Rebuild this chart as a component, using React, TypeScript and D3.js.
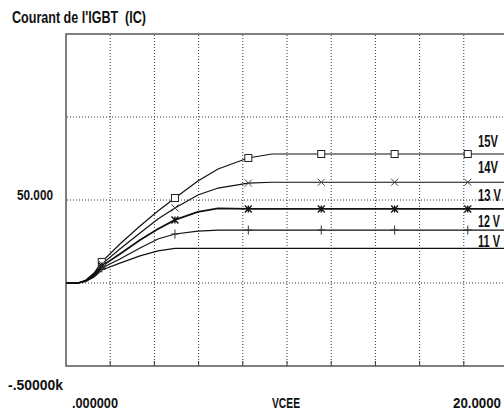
import { scaleLinear, line, range } from "d3";

// VCE sample points (V) shared by all curves
const vce = [0, 0.54, 0.9, 1.27, 1.62, 2.44, 3.35, 4.16, 4.93, 5.97, 6.88, 8.24, 9.32, 20];

// collector current (A) for each gate voltage
const ic15 = [0, 0, 1.8, 6.0, 12.7, 23.5, 34.3, 43.4, 51.2, 61.4, 68.7, 75.3, 77.7, 77.7];
const ic14 = [0, 0, 1.5, 5.4, 11.4, 20.5, 30.1, 38.6, 45.2, 53.0, 57.2, 60.2, 60.7, 60.7];
const ic13 = [0, 0, 1.2, 4.8, 10.2, 17.5, 25.9, 32.5, 38.0, 42.8, 44.9, 44.6, 44.6, 44.6];
const ic12 = [0, 0, 1.2, 4.2, 9.0, 14.5, 21.1, 26.5, 29.5, 31.3, 31.9, 31.9, 31.9, 31.9];
const ic11 = [0, 0, 0.9, 3.6, 7.8, 12.0, 16.3, 19.3, 20.8, 20.9, 20.9, 20.9, 20.9, 20.9];

const seriesLabels = ["15V", "14V", "13 V", "12 V", "11 V"];
const markerKinds = ["square", "x", "star", "plus", "none"];
// VCE where PSpice drops a marker
const markerVce = [1.62, 4.93, 8.25, 11.55, 14.87, 18.18];

const title = "Courant de l'IGBT  (IC)";
const yTickLabel = "50.000";
const yMinLabel = "-.50000k";
const xMinLabel = ".000000";
const xMaxLabel = "20.0000";
const xTitle = "VCEE";

const font = "'Liberation Sans', Arial, sans-serif";

// narrow bold text, squeezed to the width seen in the plot
const T = (p: { x: number; y: number; w: number; size: number; children: string }) => (
  <text
    x={p.x}
    y={p.y}
    textLength={p.w}
    lengthAdjust="spacingAndGlyphs"
    fontFamily={font}
    fontWeight="bold"
    fontSize={p.size}
    fill="#111"
    style={{ whiteSpace: "pre" }}
  >
    {p.children}
  </text>
);

const Marker = ({ kind, x, y }: { kind: string; x: number; y: number }) => {
  const s = 3.5;
  if (kind === "square")
    return <rect x={x - s} y={y - s} width={s * 2} height={s * 2} fill="white" stroke="#222" strokeWidth={1} />;
  const xPath = `M${x - s},${y - s}L${x + s},${y + s}M${x - s},${y + s}L${x + s},${y - s}`;
  const plusPath = `M${x},${y - 4.5}L${x},${y + 4.5}M${x - 4},${y}L${x + 4},${y}`;
  if (kind === "x") return <path d={xPath} stroke="#444" strokeWidth={1} />;
  if (kind === "star") return <path d={xPath + `M${x},${y - s}L${x},${y + s}`} stroke="#111" strokeWidth={1.3} />;
  if (kind === "plus") return <path d={plusPath} stroke="#333" strokeWidth={1} />;
  return null;
};

export default function App() {
  const width = 504;
  const height = 414;
  const x = scaleLinear().domain([0, 20]).range([66, 508]);
  const y = scaleLinear().domain([-50, 150]).range([366, 34]);

  const allSeries = [ic15, ic14, ic13, ic12, ic11];
  const interp = (vals: number[], v: number) => {
    for (let i = 1; i < vce.length; i++) {
      if (v <= vce[i]) {
        const t = (v - vce[i - 1]) / (vce[i] - vce[i - 1]);
        return vals[i - 1] + t * (vals[i] - vals[i - 1]);
      }
    }
    return vals[vals.length - 1];
  };

  const lineGen = line<number>()
    .x((_, i) => x(vce[i]))
    .y((d) => y(d));

  const xGrid = range(1, 10).map((i) => x(i * 2));
  const yGrid = [100, 50, 0];
  const labelOffsets = [-7, -9, -8, -3, -1];
  const labelWidths = [20, 20, 23, 22, 22];

  return (
    <svg width={width} height={height} style={{ position: "absolute", left: 0, top: 0, background: "white" }}>
      <rect width={width} height={height} fill="white" />
      <T x={12} y={23} w={134} size={16}>{title}</T>

      {/* grid */}
      {xGrid.map((gx, i) => (
        <line key={"gx" + i} x1={gx} x2={gx} y1={35} y2={366} stroke="#333" strokeWidth={1} strokeDasharray="1,2" />
      ))}
      {yGrid.map((v, i) => (
        <line key={"gy" + i} x1={67} x2={508} y1={y(v)} y2={y(v)} stroke="#333" strokeWidth={1} strokeDasharray="1,2" />
      ))}
      {xGrid.map((gx, i) => (
        <line key={"tk" + i} x1={gx} x2={gx} y1={361} y2={366} stroke="#333" strokeWidth={1} />
      ))}

      {/* frame */}
      <path d={`M508,${y(150)}L${x(0)},${y(150)}L${x(0)},${y(-50)}L508,${y(-50)}`} fill="none" stroke="#555" strokeWidth={1.5} />

      {/* curves */}
      {allSeries.map((s, i) => (
        <path key={"c" + i} d={lineGen(s) as string} fill="none" stroke="#111" strokeWidth={i === 2 ? 1.8 : 1.2} />
      ))}
      {allSeries.map((s, i) =>
        markerVce.map((mv, j) => (
          <Marker key={"m" + i + "_" + j} kind={markerKinds[i]} x={x(mv)} y={y(interp(s, mv))} />
        ))
      )}

      {/* curve labels */}
      {allSeries.map((s, i) => (
        <T key={"l" + i} x={478} y={y(s[s.length - 1]) + labelOffsets[i]} w={labelWidths[i]} size={16}>
          {seriesLabels[i]}
        </T>
      ))}

      {/* axis labels */}
      <T x={17} y={y(50)} w={36} size={14}>{yTickLabel}</T>
      <T x={8} y={390} w={55} size={14}>{yMinLabel}</T>
      <T x={72} y={408} w={46} size={14}>{xMinLabel}</T>
      <T x={272} y={408} w={28} size={14}>{xTitle}</T>
      <T x={453} y={408} w={48} size={14}>{xMaxLabel}</T>
    </svg>
  );
}
